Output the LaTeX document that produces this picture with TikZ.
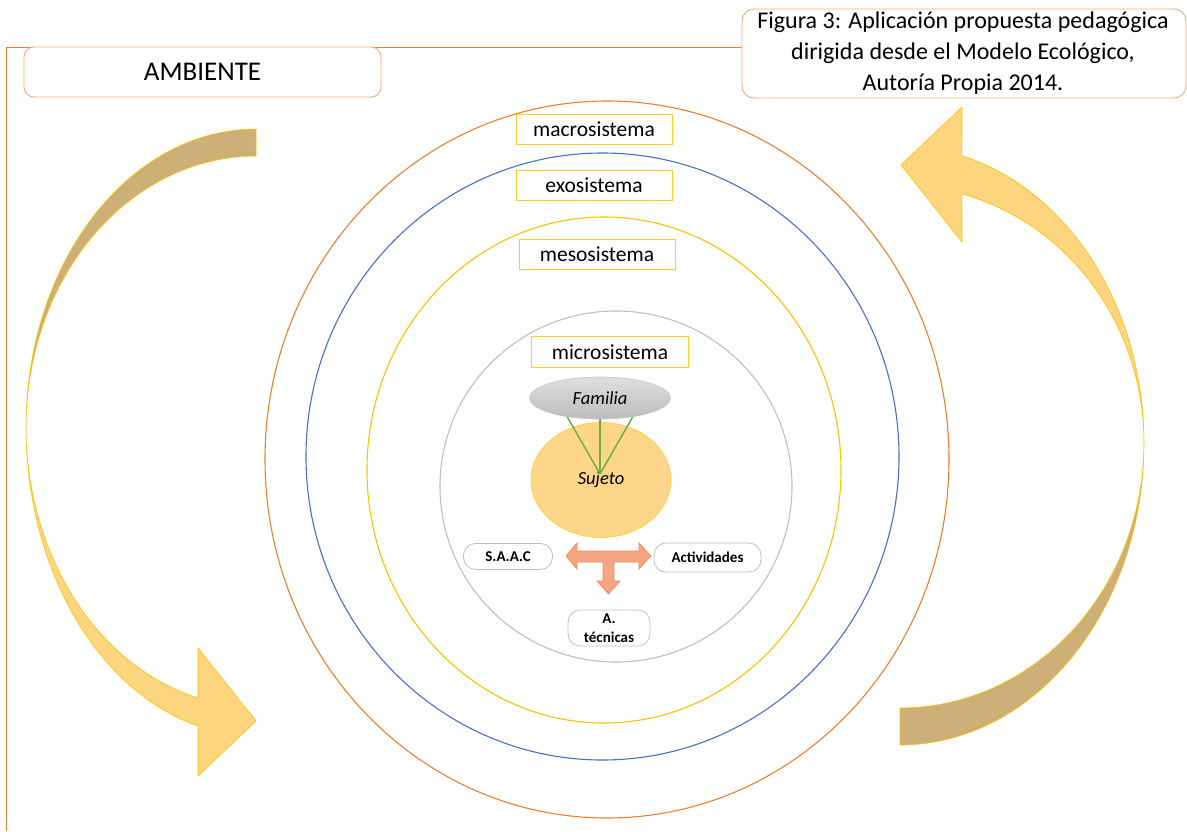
\documentclass[tikz,border=0pt]{standalone}
\usepackage{fontspec}
\setmainfont{Carlito}
\usetikzlibrary{shapes.geometric}
\definecolor{frameor}{RGB}{237,125,49}
\definecolor{lightor}{RGB}{244,170,120}
\definecolor{ringblue}{RGB}{68,114,196}
\definecolor{gold}{RGB}{255,192,0}
\definecolor{ringgray}{RGB}{191,191,191}
\definecolor{arrowlight}{RGB}{254,213,127}
\definecolor{arrowdark}{RGB}{205,176,120}
\definecolor{salmon}{RGB}{244,166,130}
\definecolor{salmonedge}{RGB}{240,140,90}
\definecolor{sujfill}{RGB}{254,214,138}
\definecolor{leafgreen}{RGB}{112,173,71}
\begin{document}
\begin{tikzpicture}[x=1pt,y=-1pt,
  ring/.style={line width=1.1pt},
  lbl/.style={draw=gold!85, line width=1pt, fill=white, minimum width=156pt, minimum height=30pt, inner sep=0pt, font=\fontsize{21.5}{25}\selectfont},
  pill/.style={draw=ringgray, line width=0.8pt, rounded corners=12pt, fill=white, inner sep=0pt, align=center, font=\bfseries\fontsize{15}{19}\selectfont},
  bigarrowlight/.style={fill=arrowlight, draw=gold, line width=0.6pt},
  bigarrowdark/.style={fill=arrowdark, draw=gold, line width=0.6pt},
  link/.style={draw=leafgreen, line width=1.5pt}
]
\useasboundingbox (0,0) rectangle (1187,831);

% frame
\coordinate (fb) at (6,831);
\coordinate (ft) at (6,47);
\coordinate (fr) at (742,47);
\draw[frameor, line width=0.9pt] (fb) -- (ft) -- (fr);

% rings
\draw[ring, draw=frameor] (607,459.5) ellipse [x radius=342pt, y radius=358.5pt];
\draw[ring, draw=ringblue] (602.5,456.5) ellipse [x radius=296.5pt, y radius=303.5pt];
\draw[ring, draw=gold] (604,470) ellipse [x radius=237pt, y radius=253pt];
\draw[ring, draw=ringgray] (616,486.5) ellipse [x radius=176pt, y radius=175.5pt];

% left curved arrow
\path[bigarrowdark] plot[domain=270:180, samples=50] ({256+230*cos(\x)},{427+298*sin(\x)})
  -- plot[domain=180:270, samples=50] ({256+230*cos(\x)},{427+271*sin(\x)}) -- cycle;
\path[bigarrowlight] plot[domain=180:104.6, samples=50] ({256+230*cos(\x)},{427+309*sin(\x)})
  -- (198,776) -- (256,721) -- (198,648)
  -- plot[domain=104.6:180, samples=50] ({256+230*cos(\x)},{427+280*sin(\x)}) -- cycle;

% right curved arrow
\path[bigarrowdark] plot[domain=0:90, samples=50] ({900+244*cos(\x)},{443+302*sin(\x)})
  -- plot[domain=90:0, samples=50] ({900+244*cos(\x)},{443+265*sin(\x)}) -- cycle;
\path[bigarrowlight] plot[domain=0:-75.3, samples=50] ({900+244*cos(\x)},{443+297*sin(\x)})
  -- (962,107) -- (901,165) -- (962,242)
  -- plot[domain=-75.3:0, samples=50] ({900+244*cos(\x)},{443+257.5*sin(\x)}) -- cycle;

% title boxes
\node[draw=lightor, line width=0.9pt, rounded corners=10pt, fill=white, minimum width=357pt, minimum height=50pt, inner sep=0pt, font=\fontsize{27}{30}\selectfont] (amb) at (202.5,72) {AMBIENTE};
\node[draw=lightor, line width=0.9pt, rounded corners=12pt, fill=white, minimum width=444pt, minimum height=89pt, inner sep=0pt] (capbox) at (964,53.5) {};
\node[align=center, inner sep=0pt, font=\fontsize{24}{31}\selectfont] (cap) at (963,53) {Figura 3: Aplicación propuesta pedagógica\\dirigida desde el Modelo Ecológico,\\Autoría Propia 2014.};

% ring labels
\node[lbl] (macro) at (594,129.5) {macrosistema};
\node[lbl] (exo) at (594,185) {exosistema};
\node[lbl] (meso) at (597,254) {mesosistema};
\node[lbl, minimum width=157pt, minimum height=31pt] (micro) at (610,352) {microsistema};

% familia and sujeto
\node[ellipse, draw=gold!75, line width=0.8pt, fill=sujfill, minimum width=140pt, minimum height=115pt, inner sep=0pt, font=\itshape\fontsize{18.5}{22}\selectfont] (suj) at (601,480) {Sujeto};
\node[ellipse, draw=gray!45, line width=0.6pt, top color=gray!25, bottom color=gray!52, minimum width=141pt, minimum height=42pt, inner sep=0pt, font=\itshape\fontsize{18.5}{22}\selectfont] (fam) at (600,398) {Familia};
\coordinate (hub) at (600,474);
\draw[link] (fam.-150) -- (hub);
\draw[link] (fam.south) -- (hub);
\draw[link] (fam.-30) -- (hub);

% pills
\node[pill, minimum width=89pt, minimum height=26pt] (saac) at (508,556.5) {S.A.A.C};
\node[pill, minimum width=107pt, minimum height=29pt] (act) at (707.5,557.5) {Actividades};
\node[pill, minimum width=82pt, minimum height=36pt] (tec) at (609,628) {A.\\técnicas};

% three-way arrow
\path[fill=salmon, draw=salmonedge, line width=0.7pt, line join=miter]
  (566,556) -- (577,543) -- (577,551) -- (639,551) -- (639,543) -- (651,556)
  -- (639,569) -- (639,562) -- (614,562) -- (614,581) -- (620,581) -- (608.5,594)
  -- (597,581) -- (603,581) -- (603,562) -- (577,562) -- (577,569) -- cycle;
\end{tikzpicture}
\end{document}
